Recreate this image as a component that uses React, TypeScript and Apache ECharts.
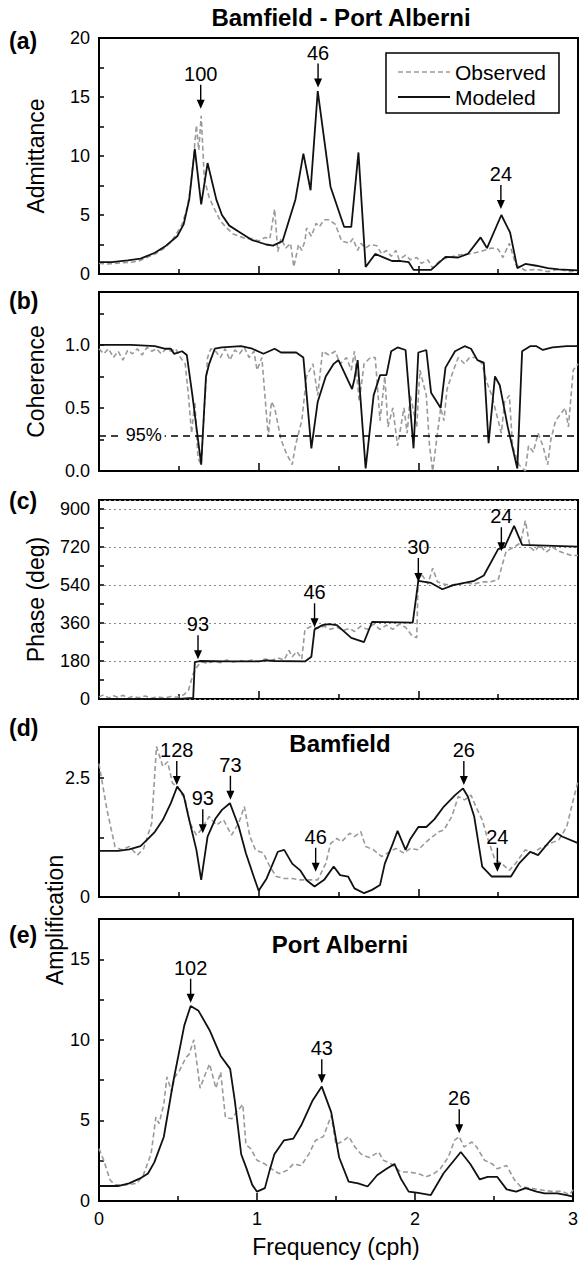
import React, { useEffect, useRef } from "react";
import * as echarts from "echarts";

const FONT = "'Liberation Sans', Arial, Helvetica, sans-serif";
const INK = "#000";
const GREY = "#9a9a9a";

// ---- (a) Admittance: [frequency cph, admittance]
const admittanceObserved: number[][] = [
  [0, 0.9], [0.05, 0.85], [0.1, 0.9], [0.15, 0.95], [0.2, 1.0], [0.25, 1.1], [0.3, 1.4], [0.35, 1.7],
  [0.4, 2.1], [0.45, 2.7], [0.48, 3.3], [0.52, 4.2], [0.55, 5.5], [0.57, 7.0], [0.59, 9.5], [0.61, 12.6],
  [0.625, 10.5], [0.64, 13.4], [0.66, 8.0], [0.69, 6.5], [0.72, 5.6], [0.76, 4.5], [0.8, 3.9], [0.84, 3.4],
  [0.88, 3.2], [0.92, 3.0], [0.96, 3.0], [1.0, 2.8], [1.04, 3.1], [1.07, 3.0], [1.1, 5.5], [1.12, 1.9],
  [1.14, 3.0], [1.17, 2.2], [1.2, 2.6], [1.22, 0.6], [1.25, 2.5], [1.27, 2.0], [1.29, 2.8], [1.3, 3.9],
  [1.33, 3.2], [1.36, 4.3], [1.38, 4.0], [1.41, 4.6], [1.44, 4.6], [1.48, 4.2], [1.5, 3.5], [1.52, 2.8],
  [1.57, 2.6], [1.59, 3.0], [1.62, 2.0], [1.64, 2.6], [1.67, 2.2], [1.7, 2.5], [1.74, 2.4], [1.77, 1.7],
  [1.8, 2.0], [1.83, 1.5], [1.86, 2.0], [1.88, 1.2], [1.92, 1.6], [1.95, 1.2], [1.99, 1.4], [2.02, 0.9],
  [2.06, 1.2], [2.09, 0.5], [2.14, 1.2], [2.19, 1.4], [2.25, 1.6], [2.32, 1.7], [2.39, 1.9], [2.46, 2.2],
  [2.5, 2.1], [2.53, 1.4], [2.57, 2.6], [2.61, 0.8], [2.67, 0.3], [2.74, 0.4], [2.81, 0.2], [2.88, 0.4],
  [2.95, 0.2], [3.0, 0.3],
];
const admittanceModeled: number[][] = [
  [0, 1.0], [0.08, 1.0], [0.18, 1.15], [0.26, 1.3], [0.35, 1.8], [0.42, 2.4], [0.49, 3.2], [0.53, 4.2],
  [0.565, 6.3], [0.6, 10.6], [0.64, 5.9], [0.68, 9.4], [0.735, 6.3], [0.77, 5.0], [0.816, 4.1], [0.886, 3.5],
  [0.955, 2.9], [1.047, 2.5], [1.09, 2.4], [1.15, 2.8], [1.23, 6.3], [1.28, 10.2], [1.325, 7.1], [1.37, 15.5],
  [1.45, 7.4], [1.535, 4.0], [1.58, 4.0], [1.625, 10.3], [1.67, 0.6], [1.73, 1.7], [1.8, 1.3], [1.835, 1.1],
  [1.89, 1.1], [1.94, 1.0], [1.97, 0.35], [2.08, 0.35], [2.17, 1.45], [2.25, 1.4], [2.31, 1.7], [2.39, 3.1],
  [2.43, 2.2], [2.52, 5.0], [2.575, 3.5], [2.62, 0.5], [2.67, 0.85], [2.74, 0.7], [2.81, 0.5], [2.88, 0.4],
  [3.0, 0.3],
];
const admittancePeaks: [number, number, string][] = [
  [0.637, 14.0, "100"], [1.372, 15.8, "46"], [2.517, 5.5, "24"],
];

// ---- (b) Coherence
const coherenceObserved: number[][] = [
  [0, 0.97], [0.03, 0.93], [0.06, 0.97], [0.09, 0.9], [0.12, 0.95], [0.15, 0.88], [0.18, 0.96], [0.21, 0.93],
  [0.24, 0.97], [0.27, 0.92], [0.3, 0.98], [0.33, 0.95], [0.36, 0.97], [0.39, 0.93], [0.42, 0.97], [0.45, 0.95],
  [0.48, 0.97], [0.51, 0.9], [0.54, 0.85], [0.56, 0.6], [0.58, 0.3], [0.6, 0.55], [0.62, 0.1], [0.64, 0.05],
  [0.66, 0.5], [0.68, 0.9], [0.7, 0.97], [0.73, 0.95], [0.76, 0.9], [0.79, 0.97], [0.82, 0.88], [0.85, 0.96],
  [0.88, 0.93], [0.91, 0.98], [0.94, 0.9], [0.97, 0.95], [0.99, 0.8], [1.02, 0.9], [1.06, 0.27], [1.08, 0.55],
  [1.1, 0.5], [1.14, 0.25], [1.17, 0.15], [1.21, 0.05], [1.23, 0.2], [1.27, 0.4], [1.3, 0.75], [1.34, 0.85],
  [1.37, 0.6], [1.4, 0.95], [1.44, 0.92], [1.48, 0.95], [1.51, 0.85], [1.55, 0.9], [1.58, 0.8], [1.6, 0.95],
  [1.63, 0.55], [1.66, 0.85], [1.7, 0.9], [1.73, 0.9], [1.76, 0.4], [1.79, 0.75], [1.81, 0.35], [1.84, 0.5],
  [1.87, 0.2], [1.91, 0.5], [1.93, 0.3], [1.95, 0.6], [1.99, 0.35], [2.01, 0.8], [2.05, 0.6], [2.07, 0.2],
  [2.09, 0.0], [2.12, 0.3], [2.14, 0.5], [2.16, 0.4], [2.18, 0.65], [2.22, 0.8], [2.25, 0.9], [2.29, 0.85],
  [2.32, 0.9], [2.36, 0.9], [2.4, 0.85], [2.43, 0.7], [2.46, 0.6], [2.5, 0.4], [2.52, 0.3], [2.54, 0.55],
  [2.57, 0.6], [2.59, 0.2], [2.63, 0.05], [2.67, 0.0], [2.69, 0.2], [2.72, 0.15], [2.75, 0.3], [2.78, 0.2],
  [2.81, 0.05], [2.83, 0.25], [2.86, 0.4], [2.89, 0.45], [2.92, 0.5], [2.94, 0.35], [2.97, 0.8], [3.0, 0.85],
];
const coherenceModeled: number[][] = [
  [0, 1.0], [0.2, 1.0], [0.35, 0.99], [0.41, 0.97], [0.45, 0.97], [0.47, 0.93], [0.52, 0.95], [0.55, 0.92],
  [0.585, 0.6], [0.61, 0.35], [0.64, 0.05], [0.67, 0.75], [0.69, 0.85], [0.725, 0.97], [0.77, 0.98], [0.89, 0.99],
  [0.96, 0.97], [1.03, 0.93], [1.1, 0.97], [1.14, 0.94], [1.235, 0.94], [1.28, 0.9], [1.33, 0.18], [1.37, 0.55],
  [1.42, 0.75], [1.47, 0.85], [1.5, 0.88], [1.585, 0.65], [1.6, 0.73], [1.62, 0.88], [1.67, 0.02], [1.72, 0.6],
  [1.76, 0.76], [1.8, 0.76], [1.83, 0.95], [1.87, 0.98], [1.92, 0.96], [1.97, 0.18], [2.0, 0.94], [2.05, 0.96],
  [2.08, 0.62], [2.14, 0.5], [2.17, 0.82], [2.23, 0.95], [2.29, 0.99], [2.33, 0.97], [2.37, 0.88], [2.41, 0.86],
  [2.44, 0.22], [2.48, 0.75], [2.51, 0.68], [2.56, 0.35], [2.62, 0.02], [2.65, 0.95], [2.7, 0.99], [2.74, 0.99],
  [2.78, 0.96], [2.84, 0.98], [2.93, 0.99], [3.0, 0.99],
];
const coherenceLevel95 = 0.285;

// ---- (c) Phase (deg)
const phaseObserved: number[][] = [
  [0, 10], [0.03, 20], [0.06, 5], [0.09, 15], [0.12, 8], [0.15, 18], [0.18, 5], [0.21, 12], [0.25, 6],
  [0.29, 14], [0.33, 4], [0.37, 10], [0.41, 5], [0.45, 12], [0.49, 8], [0.53, 20], [0.56, 40], [0.59, 120],
  [0.62, 160], [0.65, 175], [0.68, 168], [0.72, 180], [0.76, 172], [0.8, 185], [0.84, 175], [0.88, 182],
  [0.92, 178], [0.96, 185], [1.0, 178], [1.04, 190], [1.08, 182], [1.12, 195], [1.16, 185], [1.19, 230],
  [1.21, 200], [1.24, 225], [1.27, 190], [1.29, 330], [1.33, 345], [1.37, 335], [1.41, 345], [1.45, 330],
  [1.49, 340], [1.53, 325], [1.57, 335], [1.6, 320], [1.64, 345], [1.68, 330], [1.72, 355], [1.76, 330],
  [1.8, 350], [1.84, 330], [1.88, 355], [1.92, 340], [1.96, 300], [1.99, 290], [2.0, 600], [2.03, 580],
  [2.06, 545], [2.09, 620], [2.12, 555], [2.16, 545], [2.2, 540], [2.25, 545], [2.3, 550], [2.35, 545],
  [2.4, 555], [2.45, 555], [2.5, 565], [2.52, 620], [2.55, 700], [2.6, 720], [2.64, 740], [2.67, 845],
  [2.7, 720], [2.73, 700], [2.76, 730], [2.8, 695], [2.84, 720], [2.88, 700], [2.92, 690], [2.96, 680],
  [3.0, 680],
];
const phaseModeled: number[][] = [
  [0, 0], [0.5, 0], [0.59, 5], [0.6, 175], [0.63, 180], [0.8, 178], [1.0, 178], [1.05, 183], [1.1, 180],
  [1.29, 178], [1.33, 200], [1.35, 330], [1.4, 350], [1.44, 355], [1.49, 350], [1.58, 290], [1.66, 270],
  [1.71, 365], [1.965, 362], [2.0, 560], [2.08, 550], [2.15, 520], [2.22, 540], [2.35, 560], [2.41, 585],
  [2.5, 710], [2.54, 720], [2.6, 820], [2.65, 730], [3.0, 722],
];
const phasePeaks: [number, number, string][] = [
  [0.62, 188, "93"], [1.35, 340, "46"], [2.0, 555, "30"], [2.52, 700, "24"],
];

// ---- (d) Amplification at Bamfield
const bamfieldObserved: number[][] = [
  [0, 2.8], [0.05, 1.83], [0.1, 1.06], [0.14, 0.99], [0.19, 1.06], [0.24, 0.88], [0.28, 1.02], [0.33, 1.55],
  [0.36, 3.16], [0.4, 2.74], [0.43, 2.84], [0.46, 2.39], [0.49, 2.32], [0.54, 2.04], [0.57, 1.55], [0.61, 1.3],
  [0.64, 1.41], [0.69, 1.69], [0.735, 1.51], [0.78, 1.62], [0.83, 1.3], [0.875, 1.55], [0.91, 1.9], [0.945, 1.27],
  [0.98, 0.99], [1.03, 0.92], [1.07, 0.64], [1.11, 0.43], [1.16, 0.39], [1.21, 0.39], [1.26, 0.36], [1.32, 0.36],
  [1.37, 0.36], [1.42, 0.7], [1.45, 1.12], [1.49, 1.23], [1.52, 1.16], [1.57, 1.34], [1.6, 1.27], [1.64, 1.37],
  [1.67, 1.06], [1.72, 0.99], [1.77, 0.85], [1.82, 0.95], [1.86, 1.02], [1.91, 0.92], [1.95, 1.02], [2.0, 0.99],
  [2.05, 1.16], [2.09, 1.27], [2.13, 1.37], [2.16, 1.41], [2.21, 1.69], [2.25, 2.11], [2.29, 2.04], [2.33, 2.14],
  [2.36, 1.9], [2.4, 1.62], [2.43, 1.27], [2.48, 0.78], [2.52, 0.71], [2.57, 0.56], [2.61, 0.71], [2.67, 0.99],
  [2.72, 0.92], [2.76, 1.02], [2.83, 1.13], [2.88, 1.2], [2.93, 1.48], [2.96, 1.9], [3.0, 2.43],
];
const bamfieldModeled: number[][] = [
  [0, 0.97], [0.12, 0.97], [0.19, 1.0], [0.26, 1.07], [0.31, 1.23], [0.35, 1.37], [0.4, 1.62], [0.45, 1.97],
  [0.49, 2.32], [0.53, 2.14], [0.56, 1.69], [0.61, 0.99], [0.64, 0.36], [0.68, 1.27], [0.73, 1.65], [0.77, 1.83],
  [0.82, 1.97], [0.875, 1.48], [0.92, 0.92], [0.97, 0.42], [1.0, 0.13], [1.05, 0.39], [1.12, 0.95], [1.16, 0.99],
  [1.21, 0.7], [1.26, 0.56], [1.3, 0.35], [1.35, 0.22], [1.41, 0.36], [1.47, 0.64], [1.51, 0.46], [1.56, 0.43],
  [1.6, 0.18], [1.66, 0.08], [1.71, 0.15], [1.76, 0.25], [1.79, 0.7], [1.84, 1.12], [1.87, 1.39], [1.92, 0.99],
  [1.95, 1.22], [2.0, 1.47], [2.05, 1.47], [2.1, 1.63], [2.16, 1.9], [2.23, 2.14], [2.28, 2.28], [2.31, 2.11],
  [2.35, 1.69], [2.4, 0.64], [2.46, 0.43], [2.58, 0.43], [2.63, 0.7], [2.7, 0.95], [2.75, 0.88], [2.82, 1.16],
  [2.87, 1.34], [2.9, 1.27], [3.0, 1.13],
];
const bamfieldPeaks: [number, number, string][] = [
  [0.487, 2.35, "128"], [0.65, 1.34, "93"], [0.823, 2.04, "73"], [1.357, 0.53, "46"], [2.285, 2.35, "26"],
  [2.495, 0.53, "24"],
];

// ---- (e) Amplification at Port Alberni
const portObserved: number[][] = [
  [0, 3.25], [0.03, 2.53], [0.07, 1.3], [0.1, 1.0], [0.17, 1.0], [0.24, 1.1], [0.28, 1.6], [0.33, 2.94],
  [0.36, 5.2], [0.38, 4.8], [0.41, 6.0], [0.43, 7.7], [0.46, 6.8], [0.48, 7.7], [0.51, 8.1], [0.55, 8.9],
  [0.57, 9.1], [0.6, 10.0], [0.64, 7.0], [0.67, 7.8], [0.7, 8.5], [0.74, 7.0], [0.77, 8.0], [0.8, 5.2],
  [0.84, 5.1], [0.87, 5.5], [0.91, 6.0], [0.93, 3.5], [0.96, 3.25], [1.0, 2.53], [1.05, 2.3], [1.09, 2.0],
  [1.14, 1.7], [1.19, 1.9], [1.23, 2.3], [1.28, 2.2], [1.33, 2.94], [1.37, 3.76], [1.42, 4.0], [1.47, 5.3],
  [1.5, 3.5], [1.55, 3.76], [1.58, 4.0], [1.62, 3.35], [1.66, 2.9], [1.71, 2.7], [1.77, 3.04], [1.8, 2.53],
  [1.85, 2.3], [1.91, 1.8], [1.96, 1.8], [2.02, 1.7], [2.07, 1.5], [2.12, 1.7], [2.16, 2.0], [2.21, 2.7],
  [2.25, 3.76], [2.28, 4.0], [2.31, 3.35], [2.36, 3.66], [2.39, 3.35], [2.44, 2.53], [2.49, 2.3], [2.52, 2.0],
  [2.58, 2.2], [2.63, 1.3], [2.67, 0.88], [2.73, 0.8], [2.79, 0.7], [2.86, 0.6], [2.93, 0.6], [2.98, 0.4],
  [3.0, 0.7],
];
const portModeled: number[][] = [
  [0, 0.93], [0.12, 0.93], [0.19, 1.09], [0.26, 1.4], [0.31, 1.71], [0.35, 2.4], [0.41, 3.97], [0.47, 7.4],
  [0.54, 10.9], [0.58, 12.1], [0.63, 11.8], [0.7, 10.6], [0.77, 9.0], [0.83, 8.2], [0.86, 6.2], [0.9, 2.9],
  [0.93, 2.12], [0.97, 1.0], [1.0, 0.58], [1.05, 0.8], [1.08, 1.9], [1.11, 2.9], [1.17, 3.76], [1.23, 3.87],
  [1.28, 4.7], [1.35, 6.2], [1.41, 7.1], [1.47, 5.5], [1.52, 2.7], [1.58, 1.2], [1.64, 1.1], [1.7, 0.9],
  [1.76, 1.6], [1.82, 2.0], [1.87, 2.3], [1.91, 1.4], [1.96, 0.58], [2.02, 0.5], [2.1, 0.37], [2.18, 1.71],
  [2.29, 3.04], [2.35, 2.3], [2.41, 1.34], [2.46, 1.5], [2.52, 1.5], [2.58, 0.72], [2.64, 0.58], [2.7, 0.8],
  [2.77, 0.58], [2.82, 0.47], [2.9, 0.47], [2.96, 0.37], [3.0, 0.27],
];
const portPeaks: [number, number, string][] = [
  [0.58, 12.3, "102"], [1.41, 7.3, "43"], [2.28, 4.2, "26"],
];

// ---- axis definitions per panel
const yMax = [20, 1.42, 943, 3.57, 17.5];
const yStep = [2.5, 0.25, 90, 1.25, 2.5];
const yLabelStep = [5, 0.5, 180, 2.5, 5];
const yDecimals = [0, 1, 0, 1, 0];
const phaseGridStep = 180;

// grid rectangles (px)
const gridTop = [38, 292, 500, 727, 919];
const gridHeight = [236, 179, 199, 170, 282];
const GRID_LEFT = 99;
const GRID_RIGHT = 3;

const ARROW = "path://M3.3,0 L4.7,0 L4.7,15 L8,15 L4,24 L0,15 L3.3,15 Z";

const isMultiple = (v: number, step: number) =>
  Math.abs(v / step - Math.round(v / step)) < 1e-6;

function tickLabel(v: number, i: number) {
  if (!isMultiple(v, yLabelStep[i])) return "";
  if (i === 3) return isMultiple(v, 1) ? v.toFixed(0) : v.toFixed(1);
  return v.toFixed(yDecimals[i]);
}

function buildOption() {
  const grids = gridTop.map((t, i) => ({
    left: GRID_LEFT,
    right: GRID_RIGHT,
    top: t,
    height: gridHeight[i],
    show: true,
    borderColor: INK,
    borderWidth: 2,
    backgroundColor: "transparent",
  }));

  const xAxes = gridTop.map((_, i) => ({
    type: "value",
    gridIndex: i,
    min: 0,
    max: 3,
    interval: 1,
    axisLine: { show: false },
    axisTick: { inside: true, length: 8, lineStyle: { color: INK, width: 1.5 } },
    minorTick: { show: true, splitNumber: 2, length: 5, lineStyle: { color: INK, width: 1.5 } },
    axisLabel: {
      show: i === 4,
      fontSize: 18,
      color: INK,
      margin: 9,
      fontFamily: FONT,
    },
    splitLine: { show: false },
    ...(i === 4
      ? {
          name: "Frequency (cph)",
          nameLocation: "middle",
          nameGap: 34,
          nameTextStyle: { fontSize: 23, color: INK, fontFamily: FONT },
        }
      : {}),
  }));

  const yNames = ["Admittance", "Coherence", "Phase (deg)", "", ""];
  const yAxes: any[] = gridTop.map((_, i) => ({
    type: "value",
    gridIndex: i,
    min: 0,
    max: yMax[i],
    interval: yStep[i],
    axisLine: { show: false },
    axisTick: { inside: true, length: 5, lineStyle: { color: INK, width: 1.5 } },
    axisLabel: {
      formatter: (v: number) => tickLabel(v, i),
      fontSize: 18,
      color: INK,
      margin: 9,
      fontFamily: FONT,
    },
    splitLine: { show: false },
    name: yNames[i],
    nameLocation: "middle",
    nameGap: 52,
    nameTextStyle: { fontSize: 23, color: INK, fontFamily: FONT },
  }));
  // dotted reference levels for the phase panel
  yAxes.push({
    type: "value",
    gridIndex: 2,
    position: "left",
    min: 0,
    max: yMax[2],
    interval: phaseGridStep,
    axisLine: { show: false },
    axisTick: { show: false },
    axisLabel: { show: false },
    splitLine: { show: true, lineStyle: { type: [2, 3], color: "#8a8a8a", width: 1.2 } },
  });

  const panels = [
    { obs: admittanceObserved, mod: admittanceModeled, peaks: admittancePeaks },
    { obs: coherenceObserved, mod: coherenceModeled, peaks: [] as [number, number, string][] },
    { obs: phaseObserved, mod: phaseModeled, peaks: phasePeaks },
    { obs: bamfieldObserved, mod: bamfieldModeled, peaks: bamfieldPeaks },
    { obs: portObserved, mod: portModeled, peaks: portPeaks },
  ];

  const series: any[] = [];
  panels.forEach((p, i) => {
    series.push({
      name: "Observed",
      type: "line",
      xAxisIndex: i,
      yAxisIndex: i,
      data: p.obs,
      symbol: "none",
      lineStyle: { color: GREY, width: 1.6, type: [5, 3] },
      z: 2,
    });
    series.push({
      name: "Modeled",
      type: "line",
      xAxisIndex: i,
      yAxisIndex: i,
      data: p.mod,
      symbol: "none",
      lineStyle: { color: "#111", width: 1.8 },
      z: 3,
    });
    if (p.peaks.length) {
      series.push({
        name: "peaks" + i,
        type: "scatter",
        xAxisIndex: i,
        yAxisIndex: i,
        data: p.peaks.map(([f, v, t]) => ({ value: [f, v], name: t })),
        symbol: ARROW,
        symbolSize: [8, 24],
        symbolOffset: [0, "-50%"],
        itemStyle: { color: INK, opacity: 1 },
        label: {
          show: true,
          position: "top",
          distance: 1,
          formatter: "{b}",
          fontSize: 20,
          color: INK,
          fontFamily: FONT,
        },
        silent: true,
        z: 5,
      });
    }
  });

  // 95% significance level for coherence
  series.push({
    name: "significance",
    type: "line",
    xAxisIndex: 1,
    yAxisIndex: 1,
    data: [],
    symbol: "none",
    markLine: {
      silent: true,
      symbol: ["none", "none"],
      label: { show: false },
      lineStyle: { color: INK, width: 1.6, type: [7, 5] },
      data: [{ yAxis: coherenceLevel95 }],
    },
    markPoint: {
      silent: true,
      symbol: "rect",
      symbolSize: 0,
      label: {
        show: true,
        position: "inside",
        formatter: "95%",
        fontSize: 18,
        color: INK,
        fontFamily: FONT,
        backgroundColor: "#fff",
        padding: [1, 3],
      },
      data: [{ coord: [0.28, coherenceLevel95] }],
    },
    z: 4,
  });

  const text = (t: string, x: number, y: number, opts: any = {}) => ({
    type: "text",
    x,
    y,
    rotation: opts.rotation || 0,
    style: {
      text: t,
      fill: INK,
      fontFamily: FONT,
      fontSize: opts.size || 20,
      fontWeight: opts.bold ? "bold" : "normal",
      align: opts.align || "center",
      verticalAlign: "middle",
    },
    z: 10,
  });

  const graphic: any[] = [
    text("Bamfield - Port Alberni", 341, 17, { size: 24, bold: true }),
    text("Bamfield", 340, 743, { size: 24, bold: true }),
    text("Port Alberni", 340, 944, { size: 24, bold: true }),
    text("(a)", 9, 41, { size: 23, bold: true, align: "left" }),
    text("(b)", 9, 301, { size: 23, bold: true, align: "left" }),
    text("(c)", 9, 501, { size: 23, bold: true, align: "left" }),
    text("(d)", 9, 728, { size: 23, bold: true, align: "left" }),
    text("(e)", 9, 935, { size: 23, bold: true, align: "left" }),
    text("Amplification", 55, 920, { size: 23, rotation: Math.PI / 2 }),
    // legend
    {
      type: "rect",
      shape: { x: 386, y: 53, width: 173, height: 60 },
      style: { fill: "#fff", stroke: INK, lineWidth: 1.5 },
      z: 9,
    },
    {
      type: "line",
      shape: { x1: 398, y1: 72, x2: 450, y2: 72 },
      style: { stroke: GREY, lineWidth: 1.6, lineDash: [5, 3] },
      z: 10,
    },
    {
      type: "line",
      shape: { x1: 398, y1: 97, x2: 450, y2: 97 },
      style: { stroke: "#111", lineWidth: 1.8 },
      z: 10,
    },
    text("Observed", 455, 72, { size: 21, align: "left" }),
    text("Modeled", 455, 97, { size: 21, align: "left" }),
  ];

  return {
    animation: false,
    backgroundColor: "#fff",
    grid: grids,
    xAxis: xAxes,
    yAxis: yAxes,
    series,
    graphic,
  };
}

export default function App() {
  const ref = useRef<HTMLDivElement>(null);
  useEffect(() => {
    if (!ref.current) return;
    const chart = echarts.init(ref.current, undefined, { renderer: "svg" });
    chart.setOption(buildOption() as any);
    return () => chart.dispose();
  }, []);
  return (
    <div
      ref={ref}
      style={{ position: "absolute", left: 0, top: 0, width: 581, height: 1265, background: "#fff" }}
    />
  );
}
